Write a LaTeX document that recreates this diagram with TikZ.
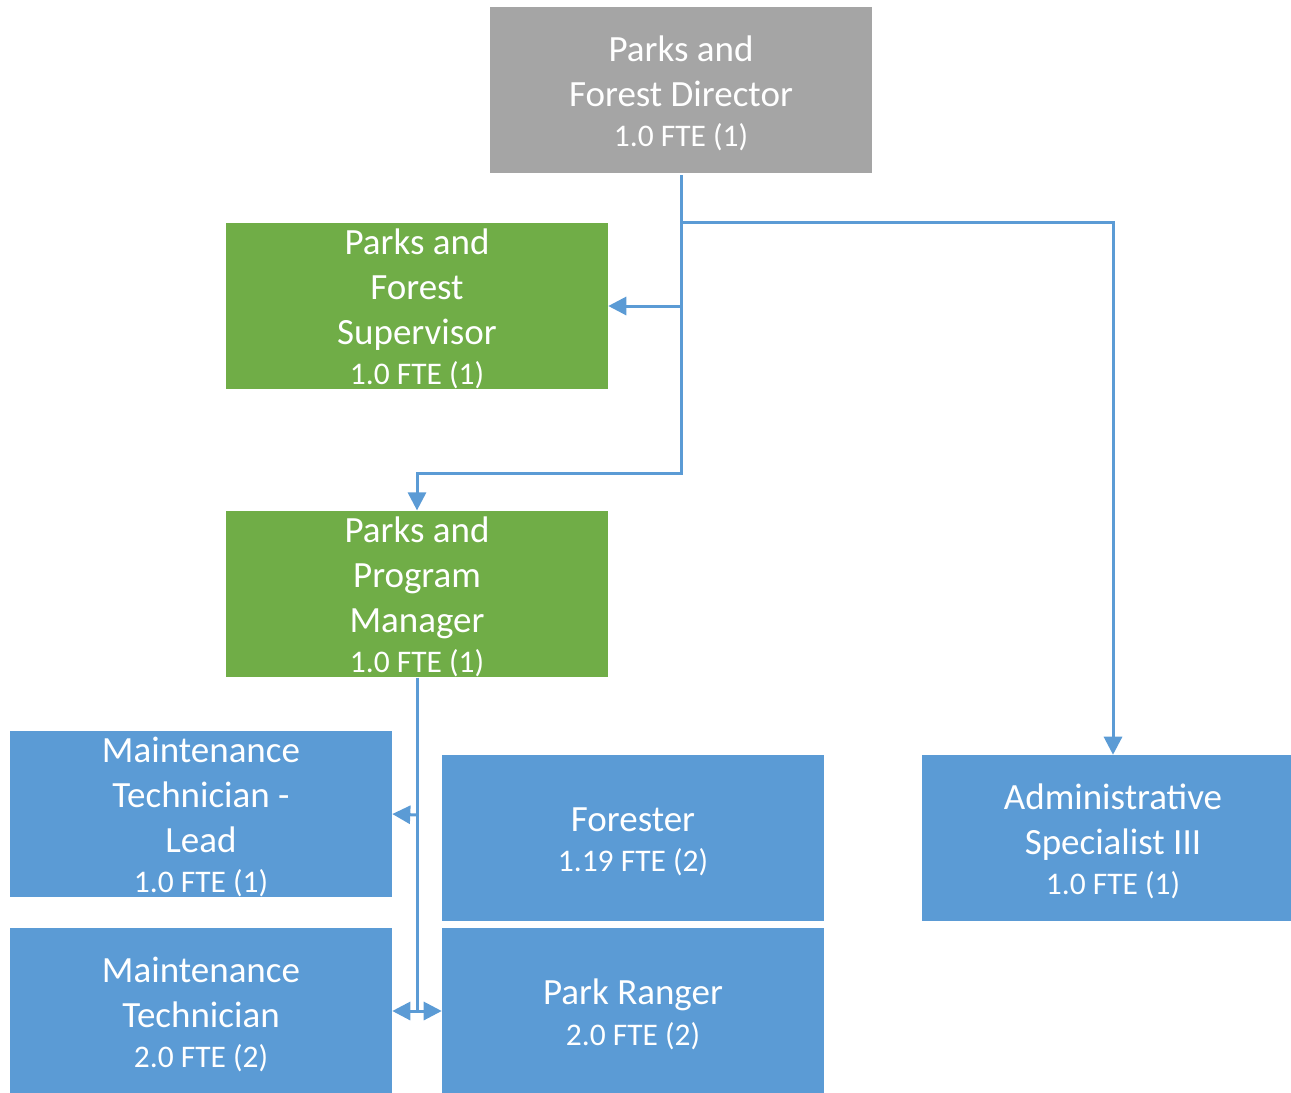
\documentclass[tikz,border=0pt]{standalone}
\usepackage{fontspec}
\setmainfont{Carlito}
\usetikzlibrary{arrows.meta}
\definecolor{boxblue}{HTML}{5B9BD5}
\definecolor{boxgreen}{HTML}{70AD47}
\definecolor{boxgray}{HTML}{A5A5A5}
\definecolor{linkblue}{HTML}{5B9BD5}
\newcommand\boxfont{\fontsize{27.75}{33.75}\selectfont}
\newcommand\ftefont{\fontsize{23.6}{28}\selectfont}
% taller first line, so each text block sits a little lower in its box
\newcommand\firstline{\rule{0pt}{24pt}}
\begin{document}
\begin{tikzpicture}[x=0.75pt,y=-0.75pt,
  orgbox/.style={inner sep=0pt, minimum width=286.5pt, minimum height=124.5pt,
    text=white, align=center, font=\boxfont},
  conn/.style={draw=linkblue, line width=2.25pt},
  tip/.style={-{Triangle[length=13.5pt,width=13.5pt]}}]
\clip (0,0) rectangle (1291,1092);

% positions
\node[orgbox, fill=boxgray]  (dir) at (681,90)   {\firstline Parks and\\Forest Director\\[-3.5pt]{\ftefont 1.0 FTE (1)}};
\node[orgbox, fill=boxgreen] (sup) at (417,306)  {\firstline Parks and\\Forest\\Supervisor\\[-3.5pt]{\ftefont 1.0 FTE (1)}};
\node[orgbox, fill=boxgreen] (mgr) at (417,594)  {\firstline Parks and\\Program\\Manager\\[-3.5pt]{\ftefont 1.0 FTE (1)}};
\node[orgbox, fill=boxblue]  (mtl) at (201,814)  {\firstline Maintenance\\Technician -\\Lead\\[-3.5pt]{\ftefont 1.0 FTE (1)}};
\node[orgbox, fill=boxblue]  (for) at (633,838)  {\firstline Forester\\[-3.5pt]{\ftefont 1.19 FTE (2)}};
\node[orgbox, fill=boxblue]  (adm) at (1113,838) {\firstline Administrative\\Specialist III\\[-3.5pt]{\ftefont 1.0 FTE (1)}};
\node[orgbox, fill=boxblue]  (mt)  at (201,1011) {\firstline Maintenance\\Technician\\[-3.5pt]{\ftefont 2.0 FTE (2)}};
\node[orgbox, fill=boxblue]  (pr)  at (633,1011) {\firstline Park Ranger\\[-3.5pt]{\ftefont 2.0 FTE (2)}};

% junction points on the trunks
\coordinate (j1) at (681,222);
\coordinate (j2) at (681,306);
\coordinate (j3) at (681,473);
\coordinate (j4) at (417,815);
\coordinate (j5) at (417,1011);

% director's reports
\draw[conn, tip] ([yshift=-1.5pt]dir.south) -- (j3) -| (mgr.north);
\draw[conn, tip] (j1) -| (adm.north);
\draw[conn, tip] (j2) -- (sup.east);

% manager's reports
\draw[conn] (mgr.south) -- (j5);
\draw[conn, tip] (j4) -- (mtl.east);
\draw[conn, tip] (j5) -- (mt.east);
\draw[conn, tip] (j5) -- (pr.west);
\end{tikzpicture}
\end{document}
